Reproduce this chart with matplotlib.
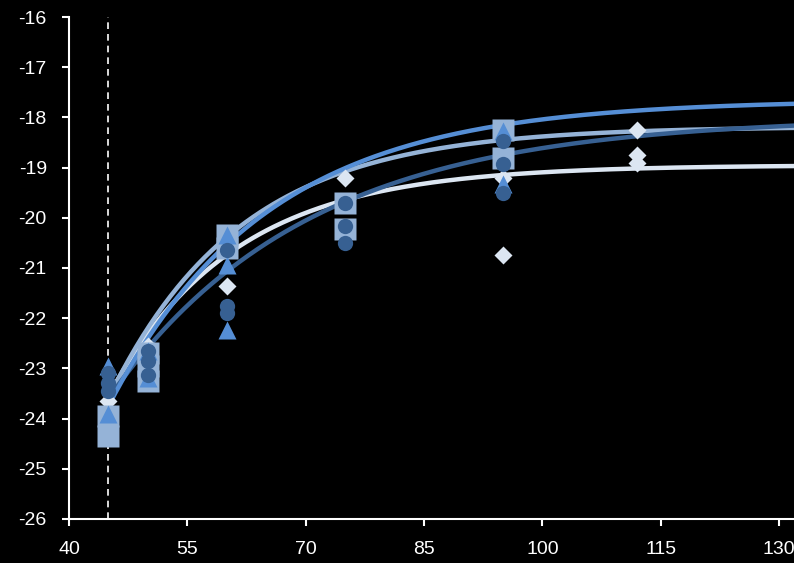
import numpy as np
import matplotlib
matplotlib.use("Agg")
import matplotlib.pyplot as plt

plt.rcParams['font.family'] = ['Liberation Sans', 'DejaVu Sans']
plt.rcParams['axes.unicode_minus'] = False

# Measured values per series (x position, y value)
diamond_x = [45, 50, 60, 75, 95, 95, 112, 112, 112]
diamond_y = [-23.65, -22.55, -21.35, -19.2, -19.2, -20.75, -18.25, -18.75, -18.9]

square_x = [45, 45, 50, 50, 50, 60, 60, 75, 75, 95, 95]
square_y = [-23.95, -24.35, -22.7, -22.95, -23.25, -20.35, -20.6, -19.7, -20.22, -18.25, -18.8]

triangle_x = [45, 45, 50, 50, 60, 60, 60, 95, 95]
triangle_y = [-22.95, -23.9, -22.65, -23.2, -20.35, -20.95, -22.23, -18.27, -19.33]

circle_x = [45, 45, 45, 50, 50, 50, 60, 60, 60, 75, 75, 75, 95, 95, 95]
circle_y = [-23.1, -23.3, -23.45, -22.65, -22.85, -23.13, -20.65, -21.75, -21.9,
            -19.7, -20.17, -20.5, -18.47, -18.93, -19.5]

# Saturating trend curves y = plateau - amplitude * exp(-rate * (x - 45))
trend_plateau = {'diamond': -18.95, 'square': -18.18, 'triangle': -17.65, 'circle': -17.99}
trend_amplitude = {'diamond': 4.6, 'square': 5.42, 'triangle': 6.1, 'circle': 5.61}
trend_rate = {'diamond': 0.063, 'square': 0.06, 'triangle': 0.05, 'circle': 0.04}

colors = {'diamond': '#DCE6F2', 'square': '#95B3D7', 'triangle': '#558ED5', 'circle': '#376092'}

x_ticks = [40, 55, 70, 85, 100, 115, 130]
y_ticks = list(range(-26, -15))
ref_x = 45

fig = plt.figure(figsize=(7.94, 5.63), dpi=100, facecolor='black')
ax = fig.add_axes([0.0869, 0.0782, 0.9131, 0.8916])
ax.set_facecolor('black')

ax.axvline(ref_x, color='white', lw=1.2, ls=(0, (4, 3)), zorder=1)

xs = np.linspace(45, 132, 300)
for key in ['diamond', 'square', 'circle', 'triangle']:
    ys = trend_plateau[key] - trend_amplitude[key] * np.exp(-trend_rate[key] * (xs - 45))
    ax.plot(xs, ys, color=colors[key], lw=3.2, zorder=2, solid_capstyle='butt')

ax.plot(diamond_x, diamond_y, ls='none', marker='D', ms=9.5, color=colors['diamond'], mec='none', zorder=3)
ax.plot(square_x, square_y, ls='none', marker='s', ms=15.5, color=colors['square'], mec='none', zorder=4)
ax.plot(triangle_x, triangle_y, ls='none', marker='^', ms=12.5, color=colors['triangle'], mec='none', zorder=5)
ax.plot(circle_x, circle_y, ls='none', marker='o', ms=11, color=colors['circle'], mec='none', zorder=6)

ax.set_xlim(40, 131.9)
ax.set_ylim(-26, -16)
ax.set_xticks(x_ticks)
ax.set_yticks(y_ticks)

for side in ['top', 'right']:
    ax.spines[side].set_visible(False)
for side in ['left', 'bottom']:
    ax.spines[side].set_color('white')
    ax.spines[side].set_linewidth(1.5)

ax.tick_params(axis='both', colors='white', labelcolor='white', width=1.5, length=5, labelsize=14)
ax.tick_params(axis='y', pad=11)
ax.tick_params(axis='x', pad=11)

fig.savefig('out.png', dpi=100, facecolor='black')
